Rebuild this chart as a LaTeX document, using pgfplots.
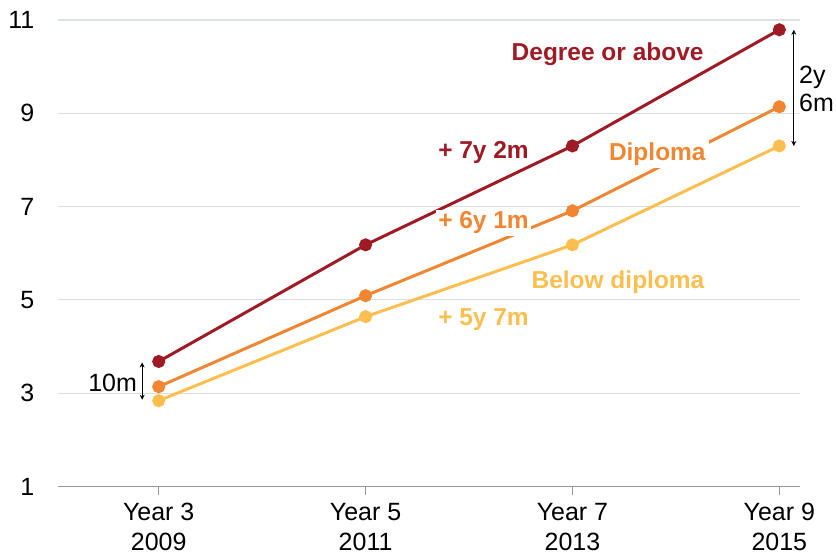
\documentclass[border=0pt]{standalone}
\usepackage{pgfplots}
\pgfplotsset{compat=1.18}
\usepackage{fontspec}
\setmainfont{Liberation Sans}
\usetikzlibrary{arrows.meta}
\definecolor{deg}{RGB}{158,27,38}
\definecolor{dip}{RGB}{240,134,50}
\definecolor{bel}{RGB}{253,190,80}
\definecolor{gridc}{RGB}{218,223,226}
\definecolor{axc}{RGB}{150,150,150}
\begin{document}
\begin{tikzpicture}
\fontsize{25}{30}\selectfont
\begin{axis}[
  at={(0,0)}, anchor=south west,
  scale only axis, width=743pt, height=467pt,
  xmin=-0.488, xmax=3.10, ymin=1, ymax=11,
  xtick={0,1,2,3},
  xticklabels={{Year 3\\2009},{Year 5\\2011},{Year 7\\2013},{Year 9\\2015}},
  xticklabel style={align=center, font=\fontsize{25}{30}\selectfont, yshift=0pt},
  ytick={1,3,5,7,9,11},
  yticklabel style={font=\fontsize{25}{30}\selectfont, xshift=-7pt},
  /pgf/number format/assume math mode=true,
  axis x line*=bottom, axis y line*=left,
  y axis line style={draw=none},
  x axis line style={draw=axc, line width=1.2pt, -},
  ytick style={draw=none},
  xtick style={draw=axc, line width=1.2pt},
  tick align=outside, major tick length=8pt,
  ymajorgrids, grid style={gridc, line width=1.2pt},
  clip=false,
]
\addplot[deg, line width=3pt, mark=*, mark size=5pt] coordinates {(0,3.68) (1,6.18) (2,8.30) (3,10.79)};
\addplot[dip, line width=3pt, mark=*, mark size=5pt] coordinates {(0,3.14) (1,5.09) (2,6.91) (3,9.14)};
\addplot[bel, line width=3pt, mark=*, mark size=5pt] coordinates {(0,2.84) (1,4.64) (2,6.18) (3,8.30)};

\node[deg, font=\fontsize{24.5}{30}\selectfont\bfseries] at (axis cs:2.17,10.27) {Degree or above};
\node[deg, font=\fontsize{24.5}{30}\selectfont\bfseries] at (axis cs:1.57,8.15) {+ 7y 2m};
\node[dip, fill=white, inner sep=3pt, font=\fontsize{24.5}{30}\selectfont\bfseries] at (axis cs:2.41,8.13) {Diploma};
\node[dip, fill=white, inner sep=2pt, font=\fontsize{24.5}{30}\selectfont\bfseries] at (axis cs:1.57,6.65) {+ 6y 1m};
\node[bel, font=\fontsize{24.5}{30}\selectfont\bfseries] at (axis cs:2.22,5.39) {Below diploma};
\node[bel, font=\fontsize{24.5}{30}\selectfont\bfseries] at (axis cs:1.57,4.58) {+ 5y 7m};

\draw[black, line width=0.9pt, {Stealth[length=5pt,width=5pt]}-{Stealth[length=5pt,width=5pt]}] (axis cs:-0.08,3.66) -- (axis cs:-0.08,2.86);
\node[fill=white, anchor=east, inner sep=2pt, font=\fontsize{25}{30}\selectfont] at (axis cs:-0.095,3.23) {10m};
\draw[black, line width=0.9pt, {Stealth[length=5pt,width=5pt]}-{Stealth[length=5pt,width=5pt]}] (axis cs:3.07,10.79) -- (axis cs:3.07,8.30);
\node[anchor=west, align=left, inner sep=2pt, font=\fontsize{25}{28}\selectfont] at (axis cs:3.085,9.52) {2y\\6m};
\end{axis}
\path (-57pt,-61pt) rectangle (779pt,487pt);
\end{tikzpicture}
\end{document}
